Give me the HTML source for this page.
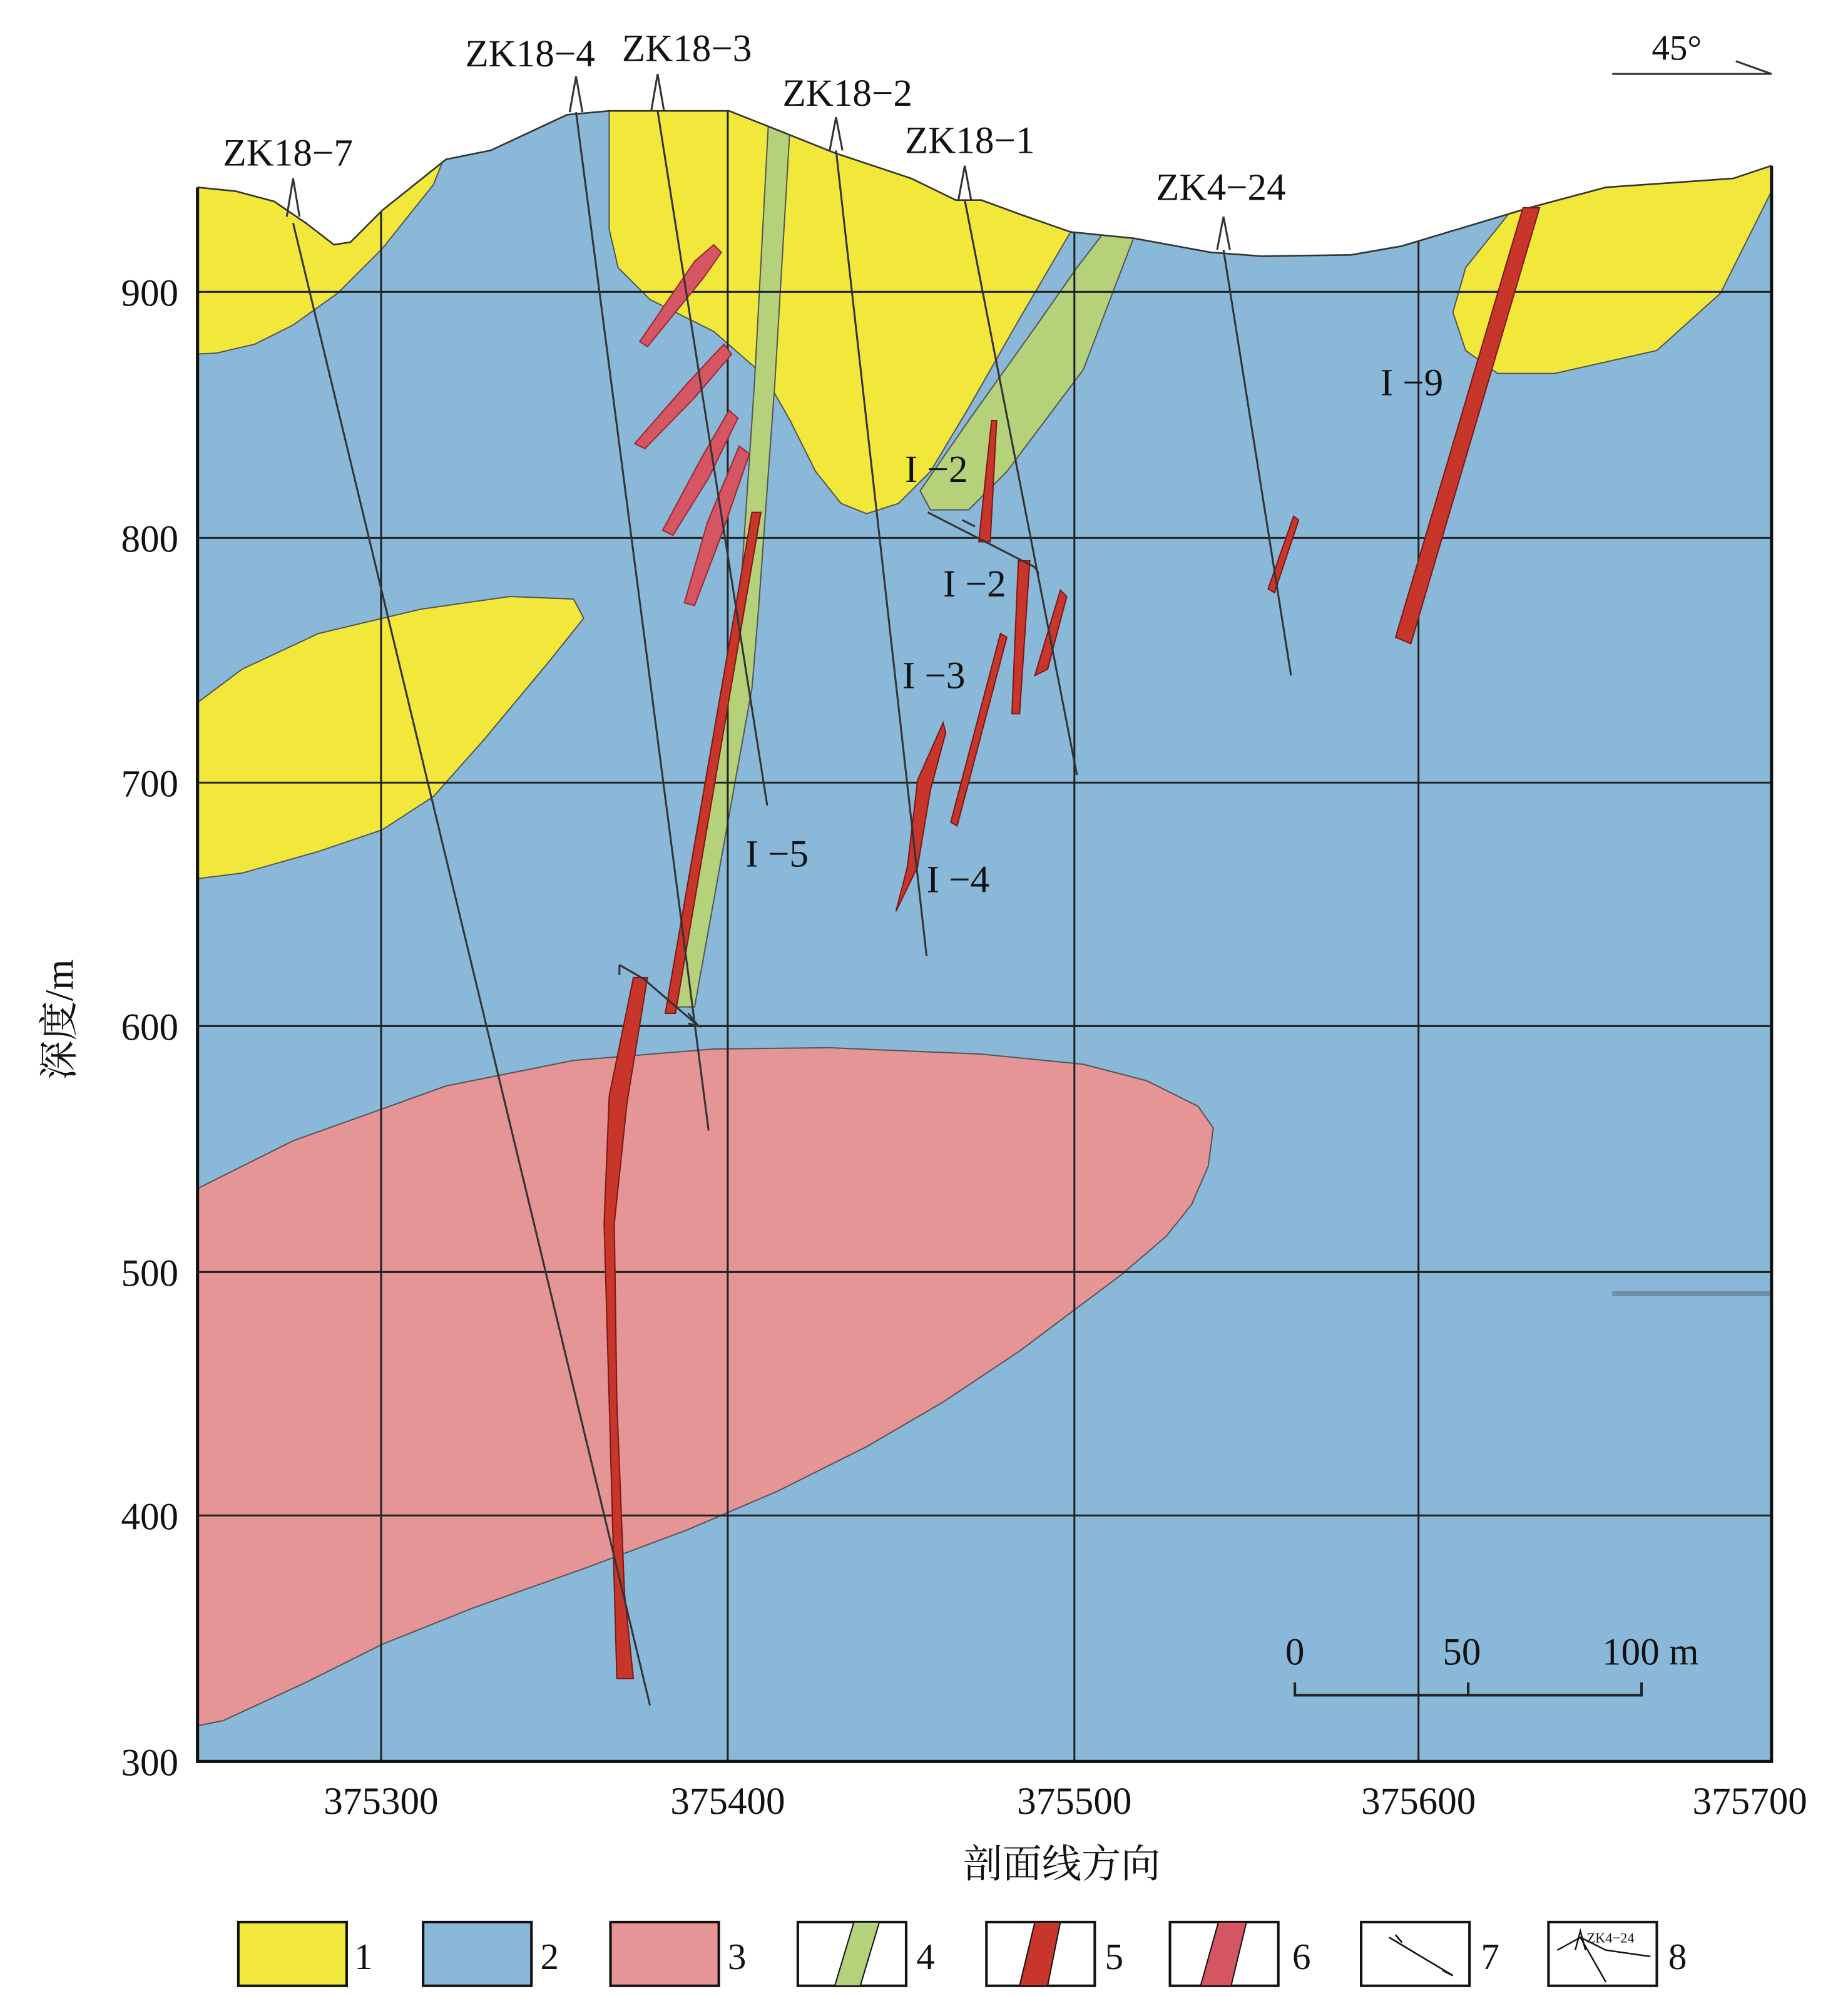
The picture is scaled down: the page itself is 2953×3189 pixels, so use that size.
<!DOCTYPE html>
<html><head><meta charset="utf-8"><style>
html,body{margin:0;padding:0;background:#fff}
svg{display:block}
text{font-family:"Liberation Serif","Noto Serif CJK SC",serif;fill:#111}
</style></head><body>
<svg width="2953" height="3189" viewBox="0 0 1450 1566" preserveAspectRatio="none" xmlns="http://www.w3.org/2000/svg">
<defs><clipPath id="pc"><path d="M155,147 L185,150 L215,158 L240,175 L262,192 L275,190 L300,165 L350,125 L385,118 L445,90 L478,87 L572,87 L605,100 L655,120 L715,140 L750,157 L770,157 L800,168 L840,182 L890,187 L950,198 L990,201 L1060,200 L1100,193 L1150,178 L1200,163 L1260,147 L1360,140 L1390,130 L1390,1382 L155,1382Z"/></clipPath></defs>
<g clip-path="url(#pc)">
<rect x="155" y="80" width="1235" height="1302" fill="#8ab8d9"/>
<g stroke="#555" stroke-width="1">
<path fill="#f2e83c" d="M150,140 L350,120 L340,145 L300,195 L265,230 L230,255 L200,270 L170,277 L150,278Z"/>
<path fill="#f2e83c" d="M478,80 L580,80 L840,175 L840,182 L800,250 L760,320 L730,370 L705,395 L680,403 L660,395 L640,370 L620,330 L600,295 L560,260 L510,235 L485,210 L478,180Z"/>
<path fill="#b5d27a" d="M603,95 L620,98 L608,300 L595,480 L590,540 L545,790 L525,790 L580,480 L592,300Z"/>
<path fill="#b5d27a" d="M868,180 L892,180 L850,290 L790,370 L760,400 L730,400 L722,385 L760,330 L810,260 L845,210Z"/>
<path fill="#f2e83c" d="M1190,160 L1400,120 L1390,150 L1350,230 L1300,275 L1220,293 L1175,293 L1150,275 L1140,245 L1150,210 L1170,185Z"/>
<path fill="#f2e83c" d="M150,555 L190,525 L250,497 L330,478 L400,468 L450,470 L458,485 L430,520 L380,580 L340,625 L300,651 L250,668 L190,685 L150,690Z"/>
<path fill="#e59595" d="M150,935 L230,895 L300,870 L350,852 L450,832 L560,823 L650,822 L770,827 L850,835 L900,848 L940,868 L952,885 L948,915 L935,945 L915,970 L880,1000 L840,1030 L800,1060 L740,1100 L680,1135 L610,1170 L540,1200 L460,1230 L370,1262 L300,1290 L240,1320 L175,1350 L150,1355Z"/>
</g>
<rect x="1265" y="1013" width="125" height="4" fill="#6f8fa8"/>
<g stroke="#222" stroke-width="1.5">
<line x1="155" y1="229" x2="1390" y2="229"/><line x1="155" y1="422" x2="1390" y2="422"/><line x1="155" y1="614" x2="1390" y2="614"/><line x1="155" y1="805" x2="1390" y2="805"/><line x1="155" y1="998" x2="1390" y2="998"/><line x1="155" y1="1189" x2="1390" y2="1189"/>
<line x1="299" y1="80" x2="299" y2="1382"/><line x1="571" y1="80" x2="571" y2="1382"/><line x1="843" y1="80" x2="843" y2="1382"/><line x1="1113" y1="80" x2="1113" y2="1382"/>
</g>
</g>
<path fill="none" stroke="#333" stroke-width="1.3" d="M155,147 L185,150 L215,158 L240,175 L262,192 L275,190 L300,165 L350,125 L385,118 L445,90 L478,87 L572,87 L605,100 L655,120 L715,140 L750,157 L770,157 L800,168 L840,182 L890,187 L950,198 L990,201 L1060,200 L1100,193 L1150,178 L1200,163 L1260,147 L1360,140 L1390,130"/>
<g stroke="#9a2a30" stroke-width="1" fill="#d65562">
<path d="M502,268 L545,205 L560,192 L566,198 L552,218 L508,272Z"/>
<path d="M498,348 L540,300 L568,270 L574,278 L545,312 L506,352Z"/>
<path d="M520,416 L550,360 L572,322 L579,328 L556,375 L528,420Z"/>
<path d="M537,473 L555,410 L580,350 L588,356 L566,420 L545,475Z"/>
</g>
<g stroke="#7a1a14" stroke-width="1" fill="#c8352a">
<path d="M590,402 L597,402 L530,795 L522,795Z"/>
<path d="M497,767 L508,767 L492,865 L482,960 L484,1100 L490,1250 L497,1317 L484,1317 L478,1100 L474,960 L478,860Z"/>
<path d="M1195,163 L1208,163 L1107,505 L1095,500Z"/>
<path d="M778,330 L782,330 L777,425 L768,425Z"/>
<path d="M799,440 L808,440 L800,560 L794,560Z"/>
<path d="M832,463 L837,468 L822,525 L812,530Z"/>
<path d="M785,497 L790,500 L751,648 L746,645Z"/>
<path d="M740,567 L742,575 L730,620 L720,680 L703,715 L712,680 L720,612Z"/>
<path d="M1015,405 L1019,408 L1000,465 L995,462Z"/>
</g>
<g stroke="#333" stroke-width="1.5" fill="none">
<path d="M230,175 L510,1338"/><path d="M452,88 L556,887"/><path d="M516,87 L602,632"/><path d="M656,118 L727,750"/><path d="M757,157 L845,608"/><path d="M960,196 L1013,530"/>
<path d="M225,170 L230,140 L235,170"/><path d="M447,88 L452,60 L457,88"/><path d="M511,87 L516,58 L521,87"/><path d="M651,118 L656,92 L661,118"/><path d="M752,157 L757,130 L762,157"/><path d="M955,196 L960,170 L965,196"/>
<path d="M728,402 L773,425 L812,445 L815,450"/><path d="M755,408 L765,413"/>
<path d="M486,757 L505,768 L548,805"/><path d="M486,757 L486,765"/><path d="M540,795 L548,805 L540,803"/>
<path d="M1265,58 L1390,58 L1362,48"/>
</g>
<path d="M155,147 L155,1382 L1390,1382 L1390,130" fill="none" stroke="#111" stroke-width="2.5"/>
<g font-size="30">
<text x="175" y="130">ZK18−7</text><text x="365" y="52">ZK18−4</text><text x="488" y="48">ZK18−3</text><text x="614" y="83">ZK18−2</text><text x="710" y="120">ZK18−1</text><text x="907" y="157">ZK4−24</text>
<text x="1296" y="47" font-size="28">45°</text>
<text x="710" y="378">I −2</text><text x="740" y="468">I −2</text><text x="708" y="540">I −3</text><text x="727" y="700">I −4</text><text x="585" y="680">I −5</text><text x="1083" y="310">I −9</text>
</g>
<g font-size="30" text-anchor="end">
<text x="140" y="240">900</text><text x="140" y="433">800</text><text x="140" y="625">700</text><text x="140" y="816">600</text><text x="140" y="1009">500</text><text x="140" y="1200">400</text><text x="140" y="1393">300</text>
</g>
<g font-size="30" text-anchor="middle">
<text x="299" y="1423">375300</text><text x="571" y="1423">375400</text><text x="843" y="1423">375500</text><text x="1113" y="1423">375600</text><text x="1373" y="1423">375700</text>
<text x="833" y="1473" font-size="31">剖面线方向</text>
<text x="1016" y="1306">0</text><text x="1147" y="1306">50</text><text x="1295" y="1306">100 m</text>
</g>
<text transform="translate(57,800) rotate(-90)" font-size="31" text-anchor="middle">深度/m</text>
<path d="M1016,1320 L1016,1330 L1288,1330 L1288,1320 M1152,1330 L1152,1320" fill="none" stroke="#222" stroke-width="2"/>
<g stroke="#111" stroke-width="2">
<rect x="187" y="1508" width="85" height="50" fill="#f2e83c"/>
<rect x="332" y="1508" width="85" height="50" fill="#8ab8d9"/>
<rect x="479" y="1508" width="85" height="50" fill="#e59595"/>
<rect x="626" y="1508" width="85" height="50" fill="#fff"/>
<path d="M655,1558 L670,1508 L690,1508 L675,1558Z" fill="#b5d27a" stroke-width="1"/>
<rect x="774" y="1508" width="85" height="50" fill="#fff"/>
<path d="M800,1558 L812,1508 L832,1508 L822,1558Z" fill="#c8352a" stroke-width="1"/>
<rect x="918" y="1508" width="85" height="50" fill="#fff"/>
<path d="M942,1558 L956,1508 L978,1508 L966,1558Z" fill="#d65562" stroke-width="1"/>
<rect x="1068" y="1508" width="85" height="50" fill="#fff"/>
<path d="M1090,1520 L1140,1550 M1095,1518 L1100,1524 M1132,1546 L1140,1550" fill="none" stroke-width="1.3"/>
<rect x="1215" y="1508" width="85" height="50" fill="#fff"/>
<path d="M1222,1530 L1240,1520 L1260,1530 L1295,1535 M1236,1530 L1240,1515 L1244,1530 M1240,1520 L1260,1555" fill="none" stroke-width="1.2"/>
</g>
<text x="1245" y="1524" font-size="11">ZK4−24</text>
<g font-size="29">
<text x="278" y="1545">1</text><text x="424" y="1545">2</text><text x="571" y="1545">3</text><text x="719" y="1545">4</text><text x="867" y="1545">5</text><text x="1014" y="1545">6</text><text x="1162" y="1545">7</text><text x="1309" y="1545">8</text>
</g>
</svg>
</body></html>
